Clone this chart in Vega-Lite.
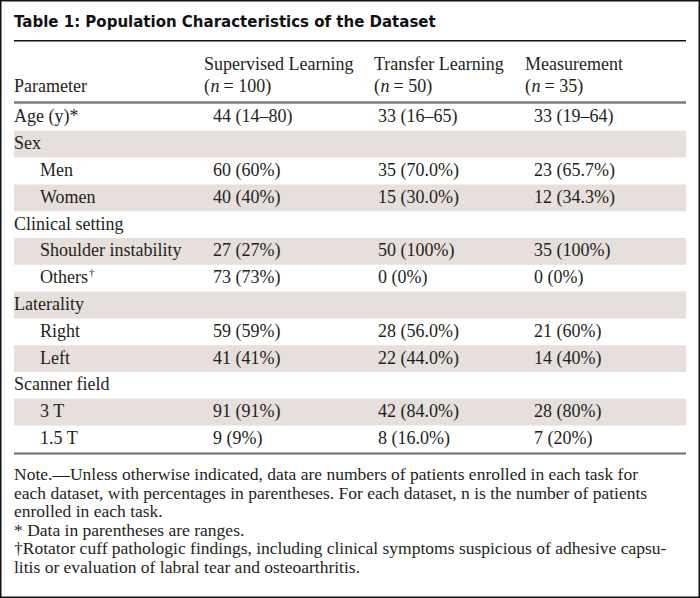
{
  "$schema": "https://vega.github.io/schema/vega-lite/v6.json",
  "width": 700,
  "height": 598,
  "padding": 0,
  "autosize": "none",
  "background": "#ffffff",
  "config": {
    "view": {"stroke": "#111111", "strokeWidth": 3},
    "text": {"font": "Liberation Serif", "fontSize": 18, "color": "#231f20", "align": "left", "baseline": "middle"}
  },
  "datasets": {
    "cells": [
      {"r": 5, "c": 0, "text": "Age (y)*"},
      {"r": 5, "c": 3, "text": "44 (14–80)"},
      {"r": 5, "c": 5, "text": "33 (16–65)"},
      {"r": 5, "c": 7, "text": "33 (19–64)"},
      {"r": 6, "c": 0, "text": "Sex"},
      {"r": 7, "c": 1, "text": "Men"},
      {"r": 7, "c": 3, "text": "60 (60%)"},
      {"r": 7, "c": 5, "text": "35 (70.0%)"},
      {"r": 7, "c": 7, "text": "23 (65.7%)"},
      {"r": 8, "c": 1, "text": "Women"},
      {"r": 8, "c": 3, "text": "40 (40%)"},
      {"r": 8, "c": 5, "text": "15 (30.0%)"},
      {"r": 8, "c": 7, "text": "12 (34.3%)"},
      {"r": 9, "c": 0, "text": "Clinical setting"},
      {"r": 10, "c": 1, "text": "Shoulder instability"},
      {"r": 10, "c": 3, "text": "27 (27%)"},
      {"r": 10, "c": 5, "text": "50 (100%)"},
      {"r": 10, "c": 7, "text": "35 (100%)"},
      {"r": 11, "c": 1, "text": "Others"},
      {"r": 11, "c": 3, "text": "73 (73%)"},
      {"r": 11, "c": 5, "text": "0 (0%)"},
      {"r": 11, "c": 7, "text": "0 (0%)"},
      {"r": 12, "c": 0, "text": "Laterality"},
      {"r": 13, "c": 1, "text": "Right"},
      {"r": 13, "c": 3, "text": "59 (59%)"},
      {"r": 13, "c": 5, "text": "28 (56.0%)"},
      {"r": 13, "c": 7, "text": "21 (60%)"},
      {"r": 14, "c": 1, "text": "Left"},
      {"r": 14, "c": 3, "text": "41 (41%)"},
      {"r": 14, "c": 5, "text": "22 (44.0%)"},
      {"r": 14, "c": 7, "text": "14 (40%)"},
      {"r": 15, "c": 0, "text": "Scanner field"},
      {"r": 16, "c": 1, "text": "3 T"},
      {"r": 16, "c": 3, "text": "91 (91%)"},
      {"r": 16, "c": 5, "text": "42 (84.0%)"},
      {"r": 16, "c": 7, "text": "28 (80%)"},
      {"r": 17, "c": 1, "text": "1.5 T"},
      {"r": 17, "c": 3, "text": "9 (9%)"},
      {"r": 17, "c": 5, "text": "8 (16.0%)"},
      {"r": 17, "c": 7, "text": "7 (20%)"},
      {"r": 2, "c": 2, "text": "Supervised Learning"},
      {"r": 2, "c": 4, "text": "Transfer Learning"},
      {"r": 2, "c": 6, "text": "Measurement"},
      {"r": 3, "c": 0, "text": "Parameter"}
    ],
    "nOpen": [
      {"r": 3, "c": 2, "text": "("},
      {"r": 3, "c": 4, "text": "("},
      {"r": 3, "c": 6, "text": "("}
    ],
    "nItalic": [
      {"r": 3, "c": 2, "text": "n"},
      {"r": 3, "c": 4, "text": "n"},
      {"r": 3, "c": 6, "text": "n"}
    ],
    "nRest": [
      {"r": 3, "c": 2, "text": "= 100)"},
      {"r": 3, "c": 4, "text": "= 50)"},
      {"r": 3, "c": 6, "text": "= 35)"}
    ],
    "dagger": [{"r": 11, "c": 1, "text": "†"}],
    "shade": [
      {"r": 6, "c": 0, "c2": 8},
      {"r": 8, "c": 0, "c2": 8},
      {"r": 10, "c": 0, "c2": 8},
      {"r": 12, "c": 0, "c2": 8},
      {"r": 14, "c": 0, "c2": 8},
      {"r": 16, "c": 0, "c2": 8}
    ],
    "title": [{"r": 0, "c": 0, "text": "Table 1: Population Characteristics of the Dataset"}],
    "notes": [
      {"r": 19, "c": 0, "text": "Note.—Unless otherwise indicated, data are numbers of patients enrolled in each task for"},
      {"r": 20, "c": 0, "text": "each dataset, with percentages in parentheses. For each dataset, n is the number of patients"},
      {"r": 21, "c": 0, "text": "enrolled in each task."},
      {"r": 22, "c": 0, "text": "* Data in parentheses are ranges."},
      {"r": 23, "c": 0, "text": "†Rotator cuff pathologic findings, including clinical symptoms suspicious of adhesive capsu-"},
      {"r": 24, "c": 0, "text": "litis or evaluation of labral tear and osteoarthritis."}
    ]
  },
  "encoding": {
    "x": {"field": "c", "type": "quantitative", "axis": null,
      "scale": {"domain": [0, 1, 2, 3, 4, 5, 6, 7, 8], "range": [14, 40, 204, 213, 374, 378, 525, 534, 686], "zero": false, "nice": false}},
    "y": {"field": "r", "type": "quantitative", "axis": null,
      "scale": {"domain": [0, 1, 2, 3, 4, 5, 17, 18, 19, 24], "range": [22, 40.7, 65, 86.5, 102.5, 117.4, 439, 453.5, 475, 567.5], "zero": false, "nice": false}}
  },
  "layer": [
    {
      "data": {"name": "shade"},
      "mark": {"type": "rule", "color": "#e6dfdc", "strokeWidth": 26.8, "strokeCap": "butt"},
      "encoding": {"x2": {"field": "c2"}}
    },
    {
      "data": {"values": [{"r": 1, "c": 0, "c2": 8}]},
      "mark": {"type": "rule", "color": "#111111", "strokeWidth": 1.5},
      "encoding": {"x2": {"field": "c2"}}
    },
    {
      "data": {"values": [{"r": 4, "c": 0, "c2": 8}]},
      "mark": {"type": "rule", "color": "#7d7d7d", "strokeWidth": 2.5},
      "encoding": {"x2": {"field": "c2"}}
    },
    {
      "data": {"values": [{"r": 18, "c": 0, "c2": 8}]},
      "mark": {"type": "rule", "color": "#6e6e6e", "strokeWidth": 2},
      "encoding": {"x2": {"field": "c2"}}
    },
    {
      "data": {"name": "title"},
      "mark": {"type": "text", "font": "DejaVu Sans", "fontWeight": "bold", "fontSize": 15, "color": "#111111"},
      "encoding": {"text": {"field": "text"}}
    },
    {
      "data": {"name": "cells"},
      "mark": {"type": "text"},
      "encoding": {"text": {"field": "text"}}
    },
    {
      "data": {"name": "nOpen"},
      "mark": {"type": "text"},
      "encoding": {"text": {"field": "text"}}
    },
    {
      "data": {"name": "nItalic"},
      "mark": {"type": "text", "fontStyle": "italic", "dx": 6.5},
      "encoding": {"text": {"field": "text"}}
    },
    {
      "data": {"name": "nRest"},
      "mark": {"type": "text", "dx": 19.5},
      "encoding": {"text": {"field": "text"}}
    },
    {
      "data": {"name": "dagger"},
      "mark": {"type": "text", "fontSize": 11, "dx": 49, "dy": -5},
      "encoding": {"text": {"field": "text"}}
    },
    {
      "data": {"name": "notes"},
      "mark": {"type": "text", "fontSize": 17.5},
      "encoding": {"text": {"field": "text"}}
    }
  ]
}
